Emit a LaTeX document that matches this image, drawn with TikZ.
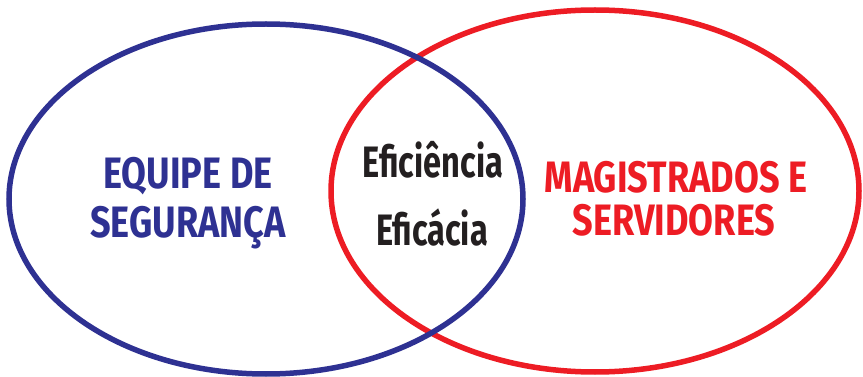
\documentclass[tikz,border=0pt]{standalone}
\usepackage{fontspec}
\newfontfamily\condfont[FakeStretch=0.82]{Fira Sans}
\newfontfamily\narrowfont[FakeStretch=0.74]{Fira Sans}
\definecolor{vennblue}{HTML}{2E3192}
\definecolor{vennred}{HTML}{ED1C24}
\definecolor{vennblack}{HTML}{231F20}
\begin{document}
\begin{tikzpicture}[x=1pt,y=-1pt,
  ring/.style={line width=5.5pt},
  label/.style={font=\condfont\bfseries\fontsize{44}{47}\selectfont, align=center, anchor=base, inner sep=0pt},
  midlabel/.style={label, font=\narrowfont\bfseries\fontsize{44}{47}\selectfont, text=vennblack}]
\useasboundingbox (0,0) rectangle (863,377);
%circles
\draw[ring, vennred] (595,191) ellipse [x radius=264, y radius=181];
\draw[ring, vennblue] (266,199) ellipse [x radius=257, y radius=175];
%left set
\node[label, text=vennblue] at (188,189) (seg1) {EQUIPE DE};
\node[label, text=vennblue] at (188,237) (seg2) {SEGURANÇA};
%right set
\node[label, text=vennred] at (676,193) (mag1) {MAGISTRADOS E};
\node[label, text=vennred] at (674,236) (mag2) {SERVIDORES};
%intersection
\node[midlabel] at (433,178) (efi1) {Eficiência};
\node[midlabel] at (432,245) (efi2) {Eficácia};
\end{tikzpicture}
\end{document}
